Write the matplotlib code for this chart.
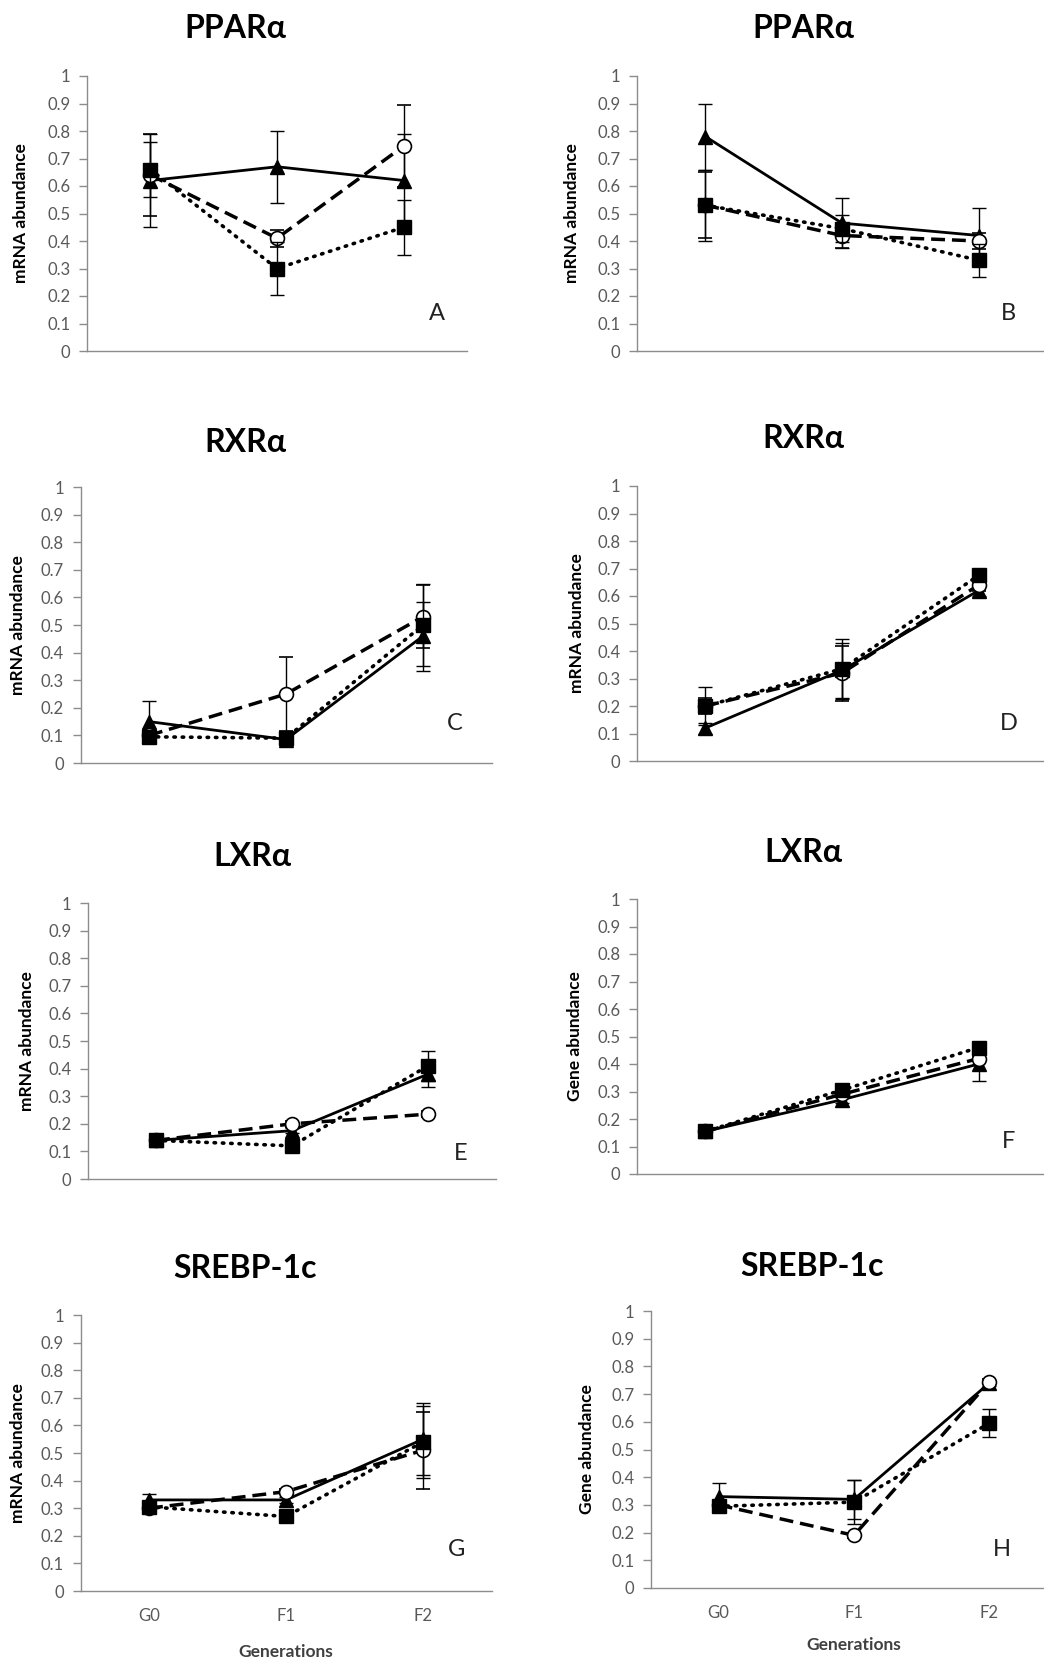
import matplotlib
matplotlib.use("Agg")
import matplotlib.pyplot as plt

plt.rcParams['font.family'] = ['Lato', 'DejaVu Sans']

generations = ["G0", "F1", "F2"]
titles = ["PPARα", "PPARα", "RXRα", "RXRα", "LXRα", "LXRα", "SREBP-1c", "SREBP-1c"]
ylabels = ["mRNA abundance", "mRNA abundance", "mRNA abundance", "mRNA abundance",
           "mRNA abundance", "Gene abundance", "mRNA abundance", "Gene abundance"]
letters = ["A", "B", "C", "D", "E", "F", "G", "H"]

# series: triangle (solid), circle (dashed), square (dotted)
tri_A = [0.62, 0.67, 0.62];   tri_A_err = [0.17, 0.13, 0.17]
circ_A = [0.64, 0.41, 0.745]; circ_A_err = [0.15, 0.03, 0.15]
sq_A = [0.66, 0.30, 0.45];    sq_A_err = [0.10, 0.095, 0.10]

tri_B = [0.78, 0.465, 0.42];  tri_B_err = [0.12, 0.09, 0.10]
circ_B = [0.53, 0.42, 0.40];  circ_B_err = [0.12, 0.045, 0.03]
sq_B = [0.53, 0.445, 0.33];   sq_B_err = [0.13, 0.05, 0.06]

tri_C = [0.15, 0.085, 0.46];  tri_C_err = [0.075, 0.01, 0.125]
circ_C = [0.10, 0.25, 0.53];  circ_C_err = [0.02, 0.135, 0.115]
sq_C = [0.095, 0.09, 0.50];   sq_C_err = [0.01, 0.01, 0.15]

tri_D = [0.12, 0.33, 0.62];   tri_D_err = [0.02, 0.10, 0.02]
circ_D = [0.20, 0.32, 0.64];  circ_D_err = [0.03, 0.10, 0.02]
sq_D = [0.20, 0.335, 0.675];  sq_D_err = [0.07, 0.11, 0.02]

tri_E = [0.14, 0.175, 0.38];  tri_E_err = [0.01, 0.01, 0.045]
circ_E = [0.14, 0.20, 0.235]; circ_E_err = [0.01, 0.01, 0.01]
sq_E = [0.14, 0.12, 0.41];    sq_E_err = [0.01, 0.01, 0.055]

tri_F = [0.155, 0.27, 0.40];  tri_F_err = [0.01, 0.01, 0.06]
circ_F = [0.155, 0.29, 0.42]; circ_F_err = [0.01, 0.01, 0.01]
sq_F = [0.155, 0.305, 0.46];  sq_F_err = [0.01, 0.01, 0.01]

tri_G = [0.33, 0.33, 0.55];   tri_G_err = [0.02, 0.01, 0.13]
circ_G = [0.30, 0.36, 0.51];  circ_G_err = [0.01, 0.01, 0.14]
sq_G = [0.305, 0.27, 0.54];   sq_G_err = [0.01, 0.01, 0.13]

tri_H = [0.33, 0.32, 0.74];   tri_H_err = [0.05, 0.07, 0.01]
circ_H = [0.30, 0.19, 0.745]; circ_H_err = [0.01, 0.01, 0.01]
sq_H = [0.295, 0.31, 0.595];  sq_H_err = [0.02, 0.08, 0.05]

panels = [
    (tri_A, tri_A_err, circ_A, circ_A_err, sq_A, sq_A_err),
    (tri_B, tri_B_err, circ_B, circ_B_err, sq_B, sq_B_err),
    (tri_C, tri_C_err, circ_C, circ_C_err, sq_C, sq_C_err),
    (tri_D, tri_D_err, circ_D, circ_D_err, sq_D, sq_D_err),
    (tri_E, tri_E_err, circ_E, circ_E_err, sq_E, sq_E_err),
    (tri_F, tri_F_err, circ_F, circ_F_err, sq_F, sq_F_err),
    (tri_G, tri_G_err, circ_G, circ_G_err, sq_G, sq_G_err),
    (tri_H, tri_H_err, circ_H, circ_H_err, sq_H, sq_H_err),
]

W, H = 1044, 1664
fig = plt.figure(figsize=(W / 100, H / 100), dpi=100)

# layout in pixels: left, width, top, bottom
boxes = [
    (87, 380, 76, 351), (637, 410, 76, 351),
    (80.5, 411, 487, 763), (637, 410, 486, 761),
    (88, 408, 903, 1179), (637, 410, 899, 1174),
    (80.5, 411, 1315, 1591), (651, 406, 1311, 1588),
]
title_pos = [(235, 28), (803, 28), (245, 442), (803, 439),
             (252, 857), (803, 853), (245, 1268), (812, 1267)]
ylab_x = [21, 572, 18, 577, 27, 575, 18, 587]
letter_pos = [(437, 313), (1008, 313), (455, 723), (1009, 723),
              (461, 1153), (1009, 1142), (457, 1550), (1002, 1550)]

axis_col = '#8c8c8c'
tick_col = '#595959'
x = list(range(len(generations)))

for i, (tri, trie, circ, circe, sq, sqe) in enumerate(panels):
    l, w, t, b = boxes[i]
    ax = fig.add_axes([l / W, 1 - b / H, w / W, (b - t) / H])
    ax.set_xlim(-0.5, 2.5)
    ax.set_ylim(0, 1)
    for s in ['top', 'right']:
        ax.spines[s].set_visible(False)
    for s in ['left', 'bottom']:
        ax.spines[s].set_color(axis_col)
        ax.spines[s].set_linewidth(1.0)
    ax.set_yticks([k / 10 for k in range(11)])
    ax.set_yticklabels(['0'] + ['0.%d' % k for k in range(1, 10)] + ['1'])
    ax.tick_params(axis='y', direction='out', length=6, width=1, color=axis_col,
                   labelcolor=tick_col, labelsize=12, pad=6)
    ax.set_xticks(x)
    if i >= 6:
        ax.set_xticklabels(generations)
        ax.tick_params(axis='x', length=0, labelcolor=tick_col, labelsize=12, pad=12)
    else:
        ax.set_xticklabels([])
        ax.tick_params(axis='x', length=0)

    ekw = dict(ecolor='black', elinewidth=1.0, capsize=5, capthick=1.0)
    ax.errorbar(x, tri, yerr=trie, color='black', lw=2.0, ls='-', marker='^',
                ms=10, mfc='black', mec='black', zorder=3, **ekw)
    ax.errorbar(x, circ, yerr=circe, color='black', lw=2.5, ls=(0, (4, 2)), marker='o',
                ms=10, mfc='white', mec='black', mew=1.2, zorder=4, **ekw)
    ax.errorbar(x, sq, yerr=sqe, color='black', lw=2.6, ls=(0, (0.4, 1.9)),
                dash_capstyle='round', marker='s',
                ms=10, mfc='black', mec='black', zorder=5, **ekw)

    tx, ty = title_pos[i]
    fig.text(tx / W, 1 - ty / H, titles[i], ha='center', va='center',
             fontsize=23, fontweight='bold', color='black')
    fig.text(ylab_x[i] / W, 1 - (t + b) / 2 / H, ylabels[i], rotation=90,
             ha='center', va='center', fontsize=12.5, fontweight='bold', color='black')
    lx, ly = letter_pos[i]
    fig.text(lx / W, 1 - ly / H, letters[i], ha='center', va='center',
             fontsize=17, color='#222222')
    if i >= 6:
        fig.text((l + w / 2) / W, 1 - (1652 if i == 6 else 1645) / H, 'Generations',
                 ha='center', va='center', fontsize=12.5, fontweight='bold', color='#404040')

fig.savefig('out.png', dpi=100, facecolor='white')
